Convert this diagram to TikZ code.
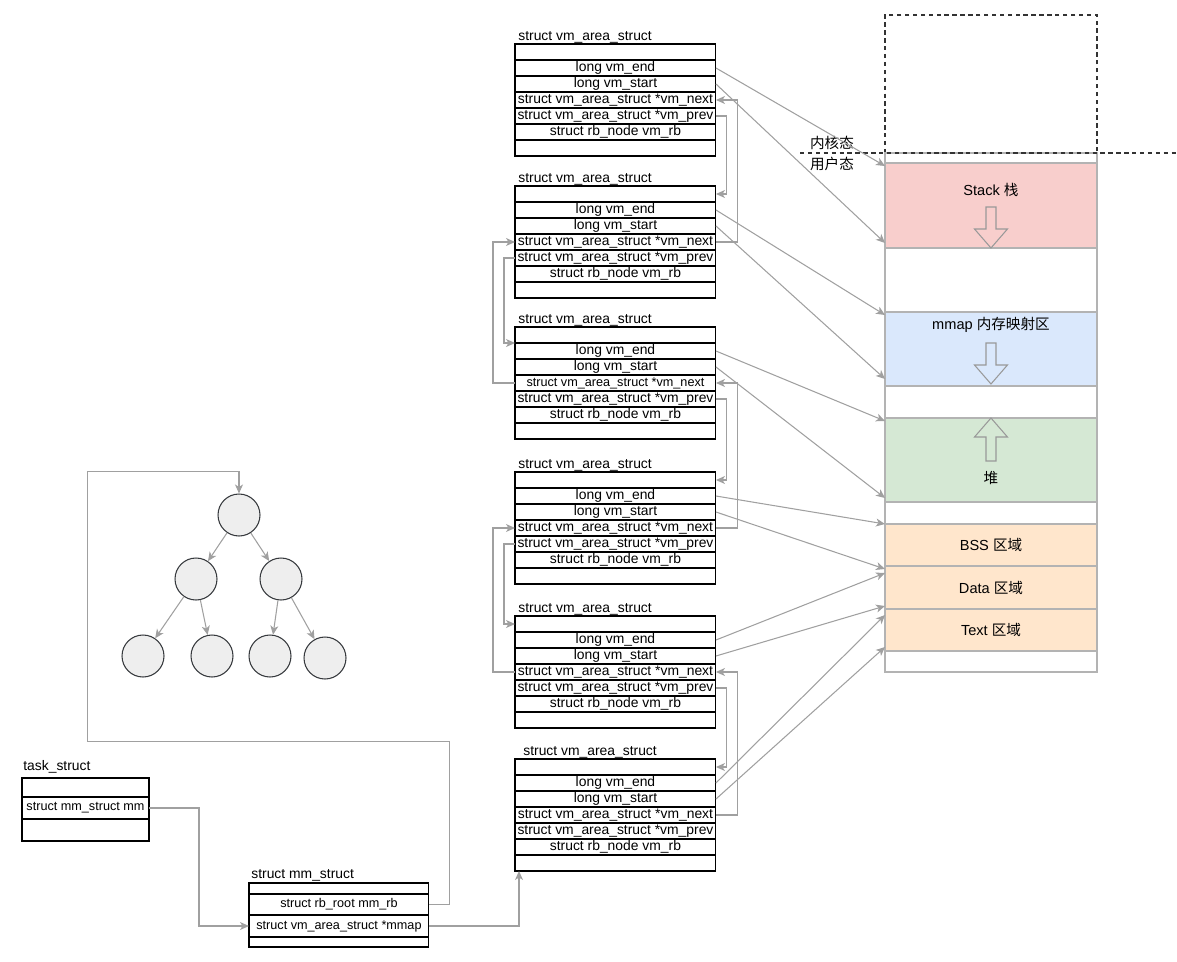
\documentclass[tikz,border=0pt]{standalone}
\usepackage{fontspec}
\setmainfont{Liberation Sans}
\newfontfamily\cjk{Noto Sans CJK SC}
\usetikzlibrary{arrows.meta,positioning,calc}

\definecolor{linkgray}{HTML}{A0A0A0}
\definecolor{edgegray}{HTML}{B3B3B3}
\definecolor{stackfill}{HTML}{F8CECC}
\definecolor{mmapfill}{HTML}{DAE8FC}
\definecolor{heapfill}{HTML}{D5E8D4}
\definecolor{segfill}{HTML}{FFE6CC}
\definecolor{nodefill}{HTML}{EEEEEE}
\definecolor{nodeline}{HTML}{36393D}

\tikzset{
  field/.style={draw, line width=0.6pt, minimum width=4.02cm, minimum height=0.32cm,
    inner sep=0pt, outer sep=0pt, font=\fontsize{7.9}{9}\selectfont},
  small field/.style={field, font=\fontsize{7.2}{9}\selectfont},
  title/.style={inner sep=0pt, font=\fontsize{7.9}{9}\selectfont},
  link/.style={draw=linkgray, line width=0.6pt},
  region/.style={draw=edgegray, line width=0.8pt, minimum width=4.24cm, inner sep=0pt,
    outer sep=0pt, anchor=north west, font=\fontsize{8.3}{10}\selectfont},
  lbl/.style={inner sep=0pt, font=\fontsize{8.3}{10}\selectfont},
  bigarrow/.style={draw=gray!80, line width=0.6pt},
  leaf/.style={circle, draw=nodeline, fill=nodefill, line width=0.6pt, minimum size=0.84cm},
  dashline/.style={draw=black!80, line width=0.8pt, dash pattern=on 2.5pt off 2pt}
}

\begin{document}
\begin{tikzpicture}[x=0.02cm, y=-0.02cm, node distance=0pt,
  >={Stealth[length=1.8mm,width=1.6mm,inset=0.5mm]}]
\useasboundingbox (0,0) rectangle (1177,961);

% vm_area_struct blocks
\foreach \k/\tp/\tx/\fs in {1/44/518/7.9, 2/186/518/7.9, 3/327/518/7.2,
                            4/472/518/7.9, 5/616/518/7.9, 6/759/523/7.9} {
  \node[title, anchor=base west] (vma\k-title) at (\tx,\tp-4) {struct vm\_area\_struct};
  \node[field, anchor=north west] (vma\k-top) at (515,\tp) {};
  \node[field, below=of vma\k-top] (vma\k-end) {long vm\_end};
  \node[field, below=of vma\k-end] (vma\k-start) {long vm\_start};
  \node[field, below=of vma\k-start, font=\fontsize{\fs}{9}\selectfont] (vma\k-next) {struct vm\_area\_struct *vm\_next};
  \node[field, below=of vma\k-next] (vma\k-prev) {struct vm\_area\_struct *vm\_prev};
  \node[field, below=of vma\k-prev] (vma\k-rb) {struct rb\_node vm\_rb};
  \node[field, below=of vma\k-rb] (vma\k-bot) {};
}

% vm_next / vm_prev links
\draw[link,->] (vma2-next.east) -- ++(22,0) |- (vma1-next.east);
\draw[link,->] (vma1-prev.east) -- ++(11,0) |- (vma2-top.east);
\draw[link,->] (vma3-next.west) -- ++(-22,0) |- (vma2-next.west);
\draw[link,->] (vma2-prev.west) -- ++(-11,0) |- (vma3-top.south west);
\draw[link,->] (vma4-next.east) -- ++(22,0) |- (vma3-next.east);
\draw[link,->] (vma3-prev.east) -- ++(11,0) |- (vma4-top.east);
\draw[link,->] (vma5-next.west) -- ++(-22,0) |- (vma4-next.west);
\draw[link,->] (vma4-prev.west) -- ++(-11,0) |- (vma5-top.west);
\draw[link,->] (vma6-next.east) -- ++(22,0) |- (vma5-next.east);
\draw[link,->] (vma5-prev.east) -- ++(11,0) |- (vma6-top.east);

% memory layout
\node[region, draw=black!80, dash pattern=on 2.5pt off 2pt, minimum height=2.76cm] (kernel) at (885,15) {};
\node[region, minimum height=10.38cm] (user) at (885,153) {};
\draw[dashline] (800,153) -- (1177,153);
\node[lbl] (kstate) at (832,143) {\cjk 内核态};
\node[lbl] (ustate) at (832,164) {\cjk 用户态};

\node[region, fill=stackfill, minimum height=1.7cm] (stack) at (885,163) {};
\node[region, fill=mmapfill, minimum height=1.48cm] (mmap) at (885,312) {};
\node[region, fill=heapfill, minimum height=1.68cm] (heap) at (885,418) {};
\node[region, fill=segfill, minimum height=0.84cm] (bss) at (885,524) {BSS {\cjk 区域}};
\node[region, fill=segfill, minimum height=0.86cm, anchor=north, below=of bss] (data) {Data {\cjk 区域}};
\node[region, fill=segfill, minimum height=0.84cm, anchor=north, below=of data] (text) {Text {\cjk 区域}};

\node[lbl] (stacklbl) at ($(stack.north)+(0,27)$) {Stack {\cjk 栈}};
\node[lbl] (mmaplbl) at ($(mmap.north)+(0,13)$) {mmap {\cjk 内存映射区}};
\node[lbl] (heaplbl) at ($(heap.north)+(0,60)$) {\cjk 堆};

\draw[bigarrow] (stack.south) -- ++(-16.5,-19) -- ++(11.5,0) -- ++(0,-22) -- ++(10,0)
  -- ++(0,22) -- ++(11.5,0) -- cycle;
\draw[bigarrow] ($(mmap.south)+(0,-2)$) -- ++(-16.5,-19) -- ++(11.5,0) -- ++(0,-22) -- ++(10,0)
  -- ++(0,22) -- ++(11.5,0) -- cycle;
\draw[bigarrow] (heap.north) -- ++(-16.5,19) -- ++(11.5,0) -- ++(0,24) -- ++(10,0)
  -- ++(0,-24) -- ++(11.5,0) -- cycle;

% vm_end / vm_start to the areas
\draw[link,->] (vma1-end.east) -- ($(stack.north west)+(0,3)$);
\draw[link,->] (vma1-start.east) -- ($(stack.south west)+(0,-5)$);
\draw[link,->] (vma2-end.east) -- ($(mmap.north west)+(0,3)$);
\draw[link,->] (vma2-start.east) -- ($(mmap.south west)+(0,-7)$);
\draw[link,->] (vma3-end.east) -- ($(heap.north west)+(0,3)$);
\draw[link,->] (vma3-start.east) -- ($(heap.south west)+(0,-4)$);
\draw[link,->] (vma4-end.east) -- (bss.north west);
\draw[link,->] (vma4-start.east) -- ($(data.north west)+(0,3)$);
\draw[link,->] (vma5-end.east) -- ($(data.north west)+(0,7)$);
\draw[link,->] (vma5-start.east) -- ($(data.south west)+(0,-3)$);
\draw[link,->] (vma6-end.east) -- ($(text.north west)+(0,6)$);
\draw[link,->] (vma6-start.east) -- ($(text.south west)+(0,-4)$);

% rb tree
\node[leaf] (root) at (239,515) {};
\node[leaf] (n-l) at (196,579) {};
\node[leaf] (n-r) at (281,579) {};
\node[leaf] (n-ll) at (143,656) {};
\node[leaf] (n-lr) at (212,656) {};
\node[leaf] (n-rl) at (270,656) {};
\node[leaf] (n-rr) at (325,658) {};
\draw[link,->] (root) -- (n-l);
\draw[link,->] (root) -- (n-r);
\draw[link,->] (n-l) -- (n-ll);
\draw[link,->] (n-l) -- (n-lr);
\draw[link,->] (n-r) -- (n-rl);
\draw[link,->] (n-r) -- (n-rr);

% task_struct
\node[title, anchor=base west] (task-title) at (23,770) {task\_struct};
\node[small field, minimum width=2.54cm, minimum height=0.38cm, anchor=north west] (task-top) at (22,778) {};
\node[small field, minimum width=2.54cm, minimum height=0.44cm, below=of task-top] (task-mm) {struct mm\_struct mm};
\node[small field, minimum width=2.54cm, minimum height=0.44cm, below=of task-mm] (task-bot) {};

% mm_struct
\node[title, anchor=base west] (mm-title) at (251,878) {struct mm\_struct};
\node[small field, minimum width=3.6cm, minimum height=0.22cm, anchor=north west] (mm-top) at (249,883) {};
\node[small field, minimum width=3.6cm, minimum height=0.42cm, below=of mm-top] (mm-rb) {struct rb\_root mm\_rb};
\node[small field, minimum width=3.6cm, minimum height=0.44cm, below=of mm-rb] (mm-mmap) {struct vm\_area\_struct *mmap};
\node[small field, minimum width=3.6cm, minimum height=0.2cm, below=of mm-mmap] (mm-bot) {};

\draw[link,->] (task-mm.east) -- ++(50,0) |- (mm-mmap.west);
\draw[link,->] (mm-mmap.east) -| ($(vma6-bot.south west)+(4,0)$);
\draw[link,->] (mm-rb.east) -- ++(21,0) -- ++(0,-163) -- ++(-362,0) -- ++(0,-270) -| (root.north);
\end{tikzpicture}
\end{document}
